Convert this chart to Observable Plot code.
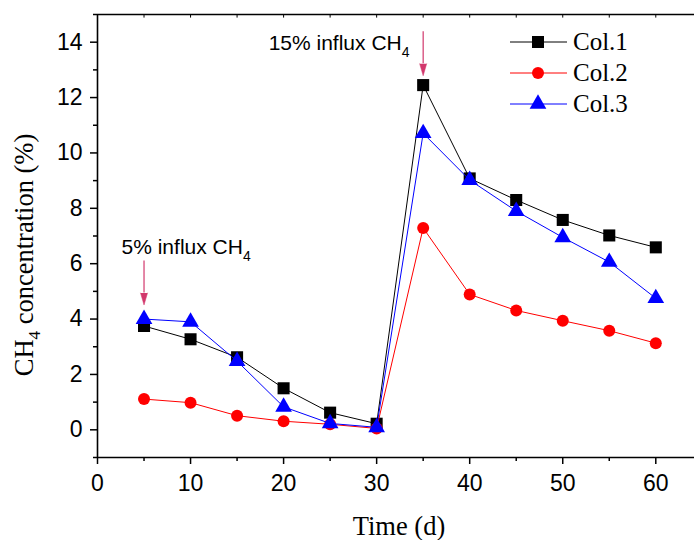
<!DOCTYPE html>
<html><head><meta charset="utf-8">
<script src="https://cdn.jsdelivr.net/npm/d3@7"></script>
<script src="https://cdn.jsdelivr.net/npm/@observablehq/plot@0.6"></script>
<style>body{margin:0;background:#fff}</style>
</head><body><div id="chart"></div>
<script>
const days = [5,10,15,20,25,30,35,40,45,50,55,60];
const col1 = [3.75,3.27,2.62,1.50,0.62,0.22,12.45,9.08,8.30,7.58,7.02,6.59];
const col2 = [1.11,0.98,0.51,0.31,0.20,0.05,7.29,4.89,4.31,3.94,3.58,3.13];
const col3 = [4.00,3.90,2.48,0.83,0.23,0.09,10.71,9.02,7.90,6.95,6.06,4.75];
const seriesNames = ["Col.1","Col.2","Col.3"];
const yTicks = [0,2,4,6,8,10,12,14];
const yMinor = [-1,1,3,5,7,9,11,13,15];
const xTicks = [0,10,20,30,40,50,60];
const xMinor = [5,15,25,35,45,55];
const arrowX = [5,35];
const arrowTop = [6.1,14.38];
const arrowBase = [4.94,13.22];
const arrowLabels = ["5% influx CH","15% influx CH"];

const colors = ["#000000","#ff0000","#0000ff"];
const symbols = ["square","circle","triangle"];
const radii = [6.8,6,6.2];
const series = [col1,col2,col3];
const rows = series.map((vals,i)=>days.map((d,j)=>({day:d,value:vals[j],series:seriesNames[i]})));
const arrows = arrowX.map((x,i)=>({x,top:arrowTop[i],base:arrowBase[i]}));
const topTicks = d3.range(5,65,5);

const marks = [];
rows.forEach((r,i)=>{
  marks.push(Plot.line(r,{x:"day",y:"value",stroke:colors[i],strokeWidth:1}));
  marks.push(Plot.dot(r,{x:"day",y:"value",fill:colors[i],stroke:"none",symbol:symbols[i],r:radii[i]}));
});

const chart = Plot.plot({
  width:694, height:540,
  marginLeft:97, marginRight:0, marginTop:14, marginBottom:83,
  style:{fontFamily:"'Liberation Sans', Arial, sans-serif", fontSize:"23px", color:"black", background:"white", overflow:"visible"},
  x:{domain:[0,64.16], label:null},
  y:{domain:[-1,15], label:null},
  marks:[
    Plot.axisX({ticks:xTicks, tickSize:7, tickPadding:10, strokeWidth:1.5, fontSize:23, label:null}),
    Plot.axisX({ticks:xMinor, tickSize:4, strokeWidth:1.5, tickFormat:()=>"", label:null}),
    Plot.axisY({ticks:yTicks, tickSize:7, tickPadding:8, strokeWidth:1.5, fontSize:23, label:null}),
    Plot.axisY({ticks:yMinor, tickSize:4, strokeWidth:1.5, tickFormat:()=>"", label:null}),
    Plot.ruleX(topTicks,{x:d=>d, y1:15, y2:14.87, stroke:"black", strokeWidth:1}),
    Plot.ruleY([15],{stroke:"black", strokeWidth:1.6}),
    Plot.ruleY([-1],{stroke:"black", strokeWidth:1.6}),
    Plot.ruleX([0],{y1:-1, y2:15, stroke:"black", strokeWidth:1.6}),
    Plot.ruleX(arrows,{x:"x", y1:"top", y2:"base", stroke:"#d2386c", strokeWidth:1.2}),
    Plot.vector(arrows,{x:"x", y:"base", length:12, r:3.5, rotate:180, shape:"spike", anchor:"start", fill:"#d2386c", stroke:"#d2386c", strokeWidth:0.5}),
    ...marks
  ]
});

const svg = d3.select(chart);
const sx = chart.scale("x");

// annotation labels
const annOffsets = [[-22,254],[-154,50]];
arrowX.forEach((x,i)=>{
  const t = svg.append("text")
    .attr("x", sx.apply(x)+annOffsets[i][0]).attr("y", annOffsets[i][1])
    .attr("text-anchor","start")
    .attr("font-family","'Liberation Sans', Arial, sans-serif").attr("font-size",21).attr("fill","black");
  t.append("tspan").text(arrowLabels[i]);
  t.append("tspan").attr("font-size",14).attr("dy",7).text("4");
});

// y label
const yl = svg.append("text")
  .attr("transform","translate(33,255) rotate(-90)")
  .attr("text-anchor","middle")
  .attr("font-family","'Liberation Serif', 'Times New Roman', serif").attr("font-size",26.5).attr("fill","black");
yl.append("tspan").text("CH");
yl.append("tspan").attr("font-size",17).attr("dy",7).text("4");
yl.append("tspan").attr("dy",-7).text(" concentration (%)");

// x label
svg.append("text").attr("x",399).attr("y",535).attr("text-anchor","middle")
  .attr("font-family","'Liberation Serif', 'Times New Roman', serif").attr("font-size",26.5).attr("fill","black")
  .text("Time (d)");

// legend
const lg = svg.append("g");
seriesNames.forEach((name,i)=>{
  const cy = 42 + i*31;
  lg.append("line").attr("x1",510).attr("x2",567).attr("y1",cy).attr("y2",cy).attr("stroke",colors[i]).attr("stroke-width",1);
  const sym = {square:d3.symbolSquare,circle:d3.symbolCircle,triangle:d3.symbolTriangle}[symbols[i]];
  lg.append("path").attr("transform",`translate(538,${cy})`).attr("d",d3.symbol(sym, Math.PI*radii[i]*radii[i])()).attr("fill",colors[i]);
  lg.append("text").attr("x",573).attr("y",cy+8).attr("text-anchor","start")
    .attr("font-family","'Liberation Serif', 'Times New Roman', serif").attr("font-size",25).attr("fill","black").text(name);
});

document.getElementById("chart").appendChild(chart);
</script>
</body></html>
